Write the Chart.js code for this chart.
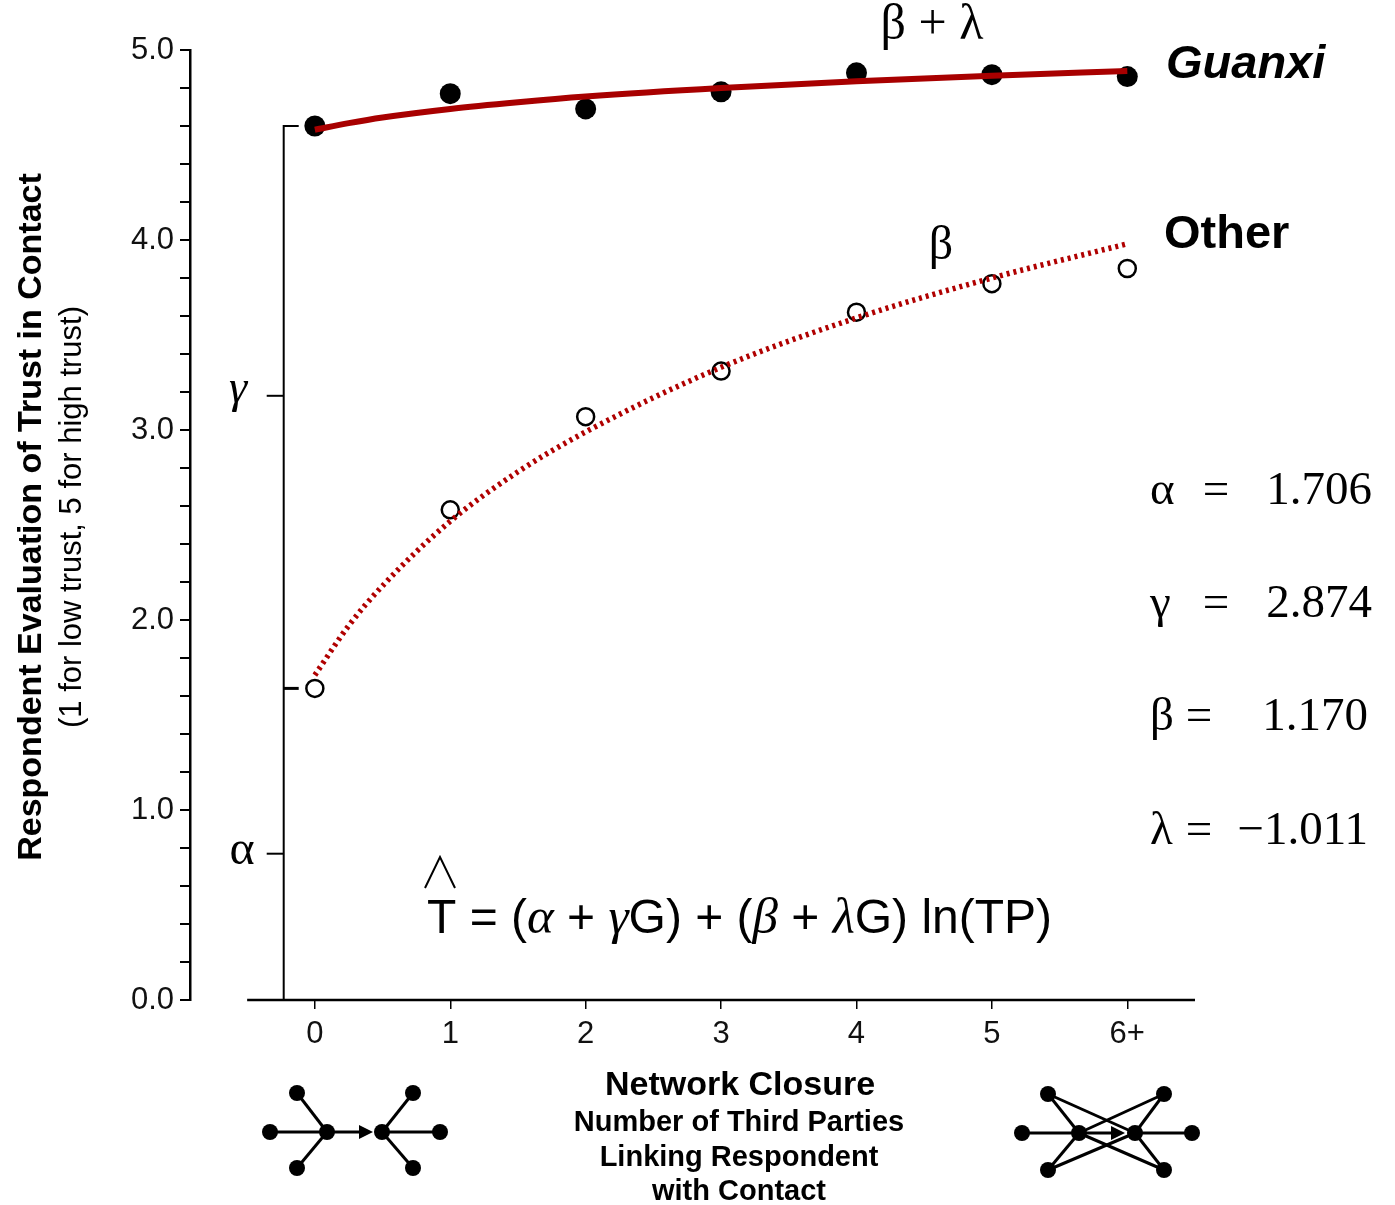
<!DOCTYPE html>
<html>
<head>
<meta charset="utf-8">
<script src="https://cdn.jsdelivr.net/npm/chart.js@4.4.1/dist/chart.umd.min.js"></script>
<style>
  body { margin: 0; background: #fff; }
  #chart { display: block; }
</style>
</head>
<body>
<canvas id="chart" width="1395" height="1205"></canvas>
<script>
// --- data ---
const closure = [0, 1, 2, 3, 4, 5, 6];
const closureLabels = ['0', '1', '2', '3', '4', '5', '6+'];
const guanxiMeans = [4.60, 4.77, 4.69, 4.78, 4.88, 4.87, 4.86];
const otherMeans = [1.64, 2.58, 3.07, 3.31, 3.62, 3.77, 3.85];

// fitted curves
const fitX = [0, 0.25, 0.5, 1, 1.5, 2, 3, 4, 5, 6];
const guanxiFit = [4.58, 4.615, 4.645, 4.69, 4.725, 4.755, 4.80, 4.835, 4.865, 4.89];
const otherFit = [1.71, 1.97, 2.18, 2.52, 2.78, 2.99, 3.33, 3.59, 3.80, 3.98];

const coefNames = ['α', 'γ', 'β', 'λ'];
const coefValues = ['1.706', '2.874', '1.170', '−1.011'];

const yTicks = [0, 1, 2, 3, 4, 5];

const SANS = '"Liberation Sans", Arial, sans-serif';
const SERIF = '"Liberation Serif", "Times New Roman", serif';
const RED = '#a80000';

function pts(xs, ys) {
    return xs.map((x, i) => ({ x: x, y: ys[i] }));
}

function text(ctx, str, x, y, font, align) {
    ctx.font = font;
    ctx.textAlign = align || 'left';
    ctx.textBaseline = 'middle';
    ctx.fillText(str, x, y);
}

// draw a run of text pieces with their own fonts, starting at x
function runText(ctx, pieces, x, y) {
    ctx.textAlign = 'left';
    ctx.textBaseline = 'alphabetic';
    pieces.forEach(p => {
        ctx.font = p[1];
        ctx.fillText(p[0], x, y);
        x += ctx.measureText(p[0]).width;
    });
}

function node(ctx, x, y) {
    ctx.beginPath();
    ctx.arc(x, y, 8, 0, Math.PI * 2);
    ctx.fill();
}

function edge(ctx, a, b) {
    ctx.beginPath();
    ctx.moveTo(a[0], a[1]);
    ctx.lineTo(b[0], b[1]);
    ctx.stroke();
}

function arrow(ctx, a, tipX) {
    ctx.beginPath();
    ctx.moveTo(a[0], a[1]);
    ctx.lineTo(tipX - 12, a[1]);
    ctx.stroke();
    ctx.beginPath();
    ctx.moveTo(tipX, a[1]);
    ctx.lineTo(tipX - 14, a[1] - 7);
    ctx.lineTo(tipX - 14, a[1] + 7);
    ctx.closePath();
    ctx.fill();
}

const decorPlugin = {
    id: 'decor',
    afterDraw(chart) {
        const ctx = chart.ctx;
        const xs = chart.scales.x, ys = chart.scales.y;
        ctx.save();
        ctx.fillStyle = '#000';
        ctx.strokeStyle = '#000';

        // x axis line, detached from the y axis
        ctx.lineWidth = 2.5;
        ctx.beginPath();
        ctx.moveTo(xs.getPixelForValue(-0.5), ys.getPixelForValue(0));
        ctx.lineTo(xs.getPixelForValue(6.5), ys.getPixelForValue(0));
        ctx.stroke();

        // bracket showing alpha and gamma
        const bx = xs.getPixelForValue(-0.23);
        ctx.lineWidth = 2;
        ctx.beginPath();
        ctx.moveTo(bx + 15, ys.getPixelForValue(4.6));
        ctx.lineTo(bx, ys.getPixelForValue(4.6));
        ctx.lineTo(bx, ys.getPixelForValue(0));
        ctx.lineTo(bx + 15, ys.getPixelForValue(0));
        ctx.stroke();
        ctx.lineWidth = 3;
        edge(ctx, [bx, ys.getPixelForValue(1.64)], [bx + 15, ys.getPixelForValue(1.64)]);
        ctx.lineWidth = 2;
        edge(ctx, [bx - 17, ys.getPixelForValue(3.18)], [bx, ys.getPixelForValue(3.18)]);
        edge(ctx, [bx - 17, ys.getPixelForValue(0.77)], [bx, ys.getPixelForValue(0.77)]);

        // greek labels
        text(ctx, 'γ', 238, 390, 'italic 46px ' + SERIF, 'center');
        text(ctx, 'α', 242, 851, '48px ' + SERIF, 'center');
        text(ctx, 'β + λ', 932, 26, '50px ' + SERIF, 'center');
        text(ctx, 'β', 941, 246, '48px ' + SERIF, 'center');

        // series names
        text(ctx, 'Guanxi', 1166, 65, 'italic bold 47px ' + SANS, 'left');
        text(ctx, 'Other', 1164, 235, 'bold 47px ' + SANS, 'left');

        // coefficients
        const rowY = [492, 605, 718, 832];
        coefNames.forEach((n, i) => {
            text(ctx, n, 1150, rowY[i], '47px ' + SERIF, 'left');
            const eqX = (i < 2) ? 1216 : 1199;
            text(ctx, '=', eqX, rowY[i], '47px ' + SERIF, 'center');
            text(ctx, coefValues[i], i < 2 ? 1372 : 1368, rowY[i], '47px ' + SERIF, 'right');
        });

        // model formula
        const fs = '48px ' + SANS, fg = 'italic 51px ' + SERIF;
        runText(ctx, [
            ['T = (', fs], ['α', fg], [' + ', fs], ['γ', fg], ['G) + (', fs],
            ['β', fg], [' + ', fs], ['λ', fg], ['G) ln(TP)', fs]
        ], 427, 933);
        ctx.lineWidth = 2;
        ctx.beginPath();
        ctx.moveTo(425, 888);
        ctx.lineTo(440, 857);
        ctx.lineTo(455, 888);
        ctx.stroke();

        // axis titles
        text(ctx, 'Network Closure', 740, 1086, 'bold 34px ' + SANS, 'center');
        text(ctx, 'Number of Third Parties', 739, 1123, 'bold 29px ' + SANS, 'center');
        text(ctx, 'Linking Respondent', 739, 1158, 'bold 29px ' + SANS, 'center');
        text(ctx, 'with Contact', 739, 1192, 'bold 29px ' + SANS, 'center');

        ctx.save();
        ctx.translate(32, 517);
        ctx.rotate(-Math.PI / 2);
        text(ctx, 'Respondent Evaluation of Trust in Contact', 0, 0, 'bold 34px ' + SANS, 'center');
        text(ctx, '(1 for low trust, 5 for high trust)', 0, 40, '31px ' + SANS, 'center');
        ctx.restore();

        // network sketches under the x axis
        ctx.lineWidth = 3;
        const la = [327, 1132], lb = [382, 1132];
        [[270, 1132], [297, 1093], [297, 1168]].forEach(p => { edge(ctx, p, la); node(ctx, p[0], p[1]); });
        [[440, 1132], [413, 1093], [413, 1168]].forEach(p => { edge(ctx, p, lb); node(ctx, p[0], p[1]); });
        arrow(ctx, la, 373);
        node(ctx, la[0], la[1]);
        node(ctx, lb[0], lb[1]);

        const ra = [1079, 1133], rb = [1135, 1133];
        const rl = [[1022, 1133], [1048, 1094], [1048, 1170]];
        const rr = [[1192, 1133], [1164, 1094], [1164, 1170]];
        rl.forEach(p => edge(ctx, p, ra));
        rr.forEach(p => edge(ctx, p, rb));
        edge(ctx, rl[1], rb); edge(ctx, rl[2], rb);
        edge(ctx, rr[1], ra); edge(ctx, rr[2], ra);
        arrow(ctx, ra, 1125);
        rl.concat(rr, [ra, rb]).forEach(p => node(ctx, p[0], p[1]));

        ctx.restore();
    }
};

const ctx = document.getElementById('chart').getContext('2d');
new Chart(ctx, {
    type: 'scatter',
    data: {
        datasets: [
            {
                label: 'Guanxi fit',
                data: pts(fitX, guanxiFit),
                showLine: true,
                borderColor: RED,
                borderWidth: 6,
                pointRadius: 0,
                cubicInterpolationMode: 'monotone'
            },
            {
                label: 'Other fit',
                data: pts(fitX, otherFit),
                showLine: true,
                borderColor: '#b00000',
                borderWidth: 5.5,
                borderDash: [3, 4],
                pointRadius: 0,
                cubicInterpolationMode: 'monotone'
            },
            {
                label: 'Guanxi',
                data: pts(closure, guanxiMeans),
                backgroundColor: '#000',
                borderColor: '#000',
                pointRadius: 10.5,
                borderWidth: 0
            },
            {
                label: 'Other',
                data: pts(closure, otherMeans),
                backgroundColor: '#fff',
                borderColor: '#000',
                pointRadius: 8.5,
                borderWidth: 2.5
            }
        ]
    },
    options: {
        responsive: false,
        animation: false,
        layout: { padding: { top: 50, right: 200, left: 0, bottom: 0 } },
        plugins: { legend: { display: false }, tooltip: { enabled: false } },
        scales: {
            x: {
                type: 'linear',
                min: -0.922,
                max: 6.5,
                afterBuildTicks: scale => { scale.ticks = closure.map(v => ({ value: v })); },
                afterFit: scale => { scale.height = 205; },
                ticks: {
                    callback: (v, i) => closureLabels[i],
                    color: '#111',
                    font: { family: SANS, size: 31 },
                    padding: 7,
                    maxRotation: 0
                },
                grid: { drawOnChartArea: false, tickLength: 9, color: '#000', lineWidth: 1.5 },
                border: { display: false }
            },
            y: {
                min: 0,
                max: 5,
                afterFit: scale => { scale.width = 190; },
                ticks: {
                    stepSize: 0.2,
                    callback: v => {
                        const r = Math.round(v);
                        return (Math.abs(v - r) < 1e-6 && yTicks.includes(r)) ? r.toFixed(1) : '';
                    },
                    color: '#111',
                    font: { family: SANS, size: 31 },
                    padding: 6,
                    autoSkip: false
                },
                grid: { drawOnChartArea: false, tickLength: 10, color: '#000', lineWidth: 2 },
                border: { display: true, color: '#000', width: 2.5 }
            }
        }
    },
    plugins: [decorPlugin]
});
</script>
</body>
</html>
